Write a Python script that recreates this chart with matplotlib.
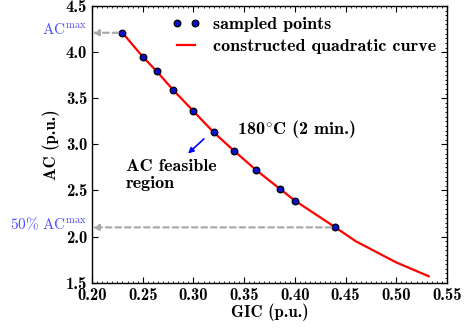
import matplotlib
matplotlib.use("Agg")
import matplotlib.pyplot as plt
from matplotlib.ticker import MultipleLocator

plt.rcParams['mathtext.fontset'] = 'cm'
plt.rcParams['font.family'] = 'cmb10'
plt.rcParams['axes.unicode_minus'] = False

# sampled points
gic_pts = [0.23, 0.25, 0.264, 0.28, 0.30, 0.32, 0.34, 0.362, 0.385, 0.40, 0.44]
ac_pts = [4.21, 3.95, 3.79, 3.59, 3.36, 3.13, 2.93, 2.72, 2.52, 2.39, 2.10]
# constructed quadratic curve
gic_curve = [0.23, 0.25, 0.264, 0.28, 0.30, 0.32, 0.34, 0.362, 0.385, 0.40, 0.44, 0.46, 0.50, 0.532]
ac_curve = [4.21, 3.95, 3.79, 3.59, 3.36, 3.13, 2.93, 2.72, 2.52, 2.39, 2.10, 1.95, 1.72, 1.57]

xticks = [0.20, 0.25, 0.30, 0.35, 0.40, 0.45, 0.50, 0.55]
yticks = [1.5, 2.0, 2.5, 3.0, 3.5, 4.0, 4.5]

fig = plt.figure(figsize=(4.68, 3.30), dpi=100)
ax = fig.add_axes([0.1966, 0.1433, 0.7584, 0.8385])

ax.plot(gic_pts, ac_pts, 'o', ls='none', color='#0c0cd0', mec='black', mew=0.9, ms=4.8,
        label='sampled points', zorder=3)
ax.plot(gic_curve, ac_curve, color='red', lw=1.6, label='constructed quadratic curve', zorder=2)

ax.set_xlim(0.20, 0.55)
ax.set_ylim(1.5, 4.5)
ax.set_xticks(xticks)
ax.set_yticks(yticks)
ax.set_xticklabels(['%.2f' % v for v in xticks])
ax.set_yticklabels(['%.1f' % v for v in yticks])
ax.xaxis.set_minor_locator(MultipleLocator(0.005))
ax.yaxis.set_minor_locator(MultipleLocator(0.05))
ax.tick_params(which='both', direction='in', top=True, right=True, labelsize=12)
ax.tick_params(which='major', length=4)
ax.tick_params(which='minor', length=1.5, width=0.6)
ax.tick_params(axis='y', which='minor', left=False)
for s in ax.spines.values():
    s.set_linewidth(1.0)

ax.set_xlabel('GIC (p.u.)', fontsize=12, labelpad=1)
ax.set_ylabel('AC (p.u.)', fontsize=12, labelpad=4)

# dashed gray arrows to y-axis
for gx, gy in [(gic_pts[0], ac_pts[0]), (gic_pts[-1], ac_pts[-1])]:
    ax.annotate('', xy=(0.2005, gy), xytext=(gx, gy),
                arrowprops=dict(arrowstyle='-|>', color='#aaaaaa', ls=(0, (2.5, 1.8)), lw=1.6,
                                mutation_scale=9, shrinkA=3, shrinkB=0))

ax.text(-0.015, ac_pts[0] + 0.04, r'$\mathrm{AC}^{\mathrm{max}}$', transform=ax.get_yaxis_transform(),
        ha='right', va='center', color='#5050ff', fontsize=11)
ax.text(-0.012, ac_pts[-1] + 0.04, r'$\mathrm{50\%\ AC}^{\mathrm{max}}$', transform=ax.get_yaxis_transform(),
        ha='right', va='center', color='#5050ff', fontsize=11)

ax.text(0.3427, 3.17, r'180$^{\!\circ}\!$C (2 min.)', fontsize=13, ha='left', va='center')
ax.annotate('', xy=(0.2927, 2.88), xytext=(0.3124, 3.08),
            arrowprops=dict(arrowstyle='-|>', color='blue', lw=1.2, mutation_scale=8))
ax.text(0.2335, 2.67, 'AC feasible\nregion', fontsize=13, ha='left', va='center', linespacing=1.15)

leg = ax.legend(loc='upper right', frameon=False, fontsize=13, numpoints=2,
                handlelength=1.6, handletextpad=0.7, borderaxespad=0.2, labelspacing=0.35)

fig.savefig('out.png', dpi=100)
